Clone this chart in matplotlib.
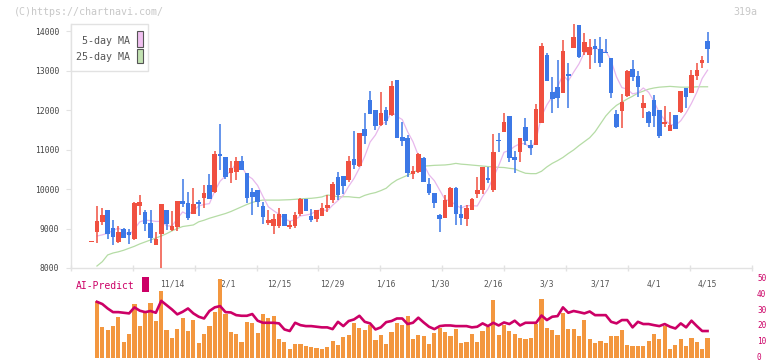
import numpy as np
import matplotlib
matplotlib.use("Agg")
import matplotlib.pyplot as plt
from matplotlib.patches import Rectangle

W, H = 772, 361
MONO = "DejaVu Sans Mono"

# daily candles (open, high, low, close), oldest first
opens = [8660, 8919, 9172, 9468, 9003, 8666, 8978, 8902, 8733, 9577,
         9417, 9139, 8590, 8851, 9468, 8961, 9046, 9696, 9645, 9366,
         9662, 9780, 10101, 9915, 10877, 10801, 10413, 10421, 10708, 10396,
         9932, 9974, 9569, 9147, 9071, 9071, 9366, 9046, 9071, 9366,
         9746, 9324, 9240, 9324, 9527, 9721, 10303, 10328, 10227, 10759,
         10590, 11519, 12253, 11999, 11620, 11999, 11873, 12759, 11324, 11282,
         10371, 10438, 10776, 10126, 9890, 9341, 9274, 9552, 10033, 9366,
         9240, 9468, 9873, 9974, 10269, 9974, 11240, 11434, 11848, 10818,
         10945, 11577, 11113, 11113, 11662, 13392, 12447, 12590, 12439, 12911,
         13578, 14152, 13476, 13392, 13620, 13536, 13476, 13308, 11898, 11983,
         12363, 13038, 12861, 12059, 11940, 12253, 12000, 11645, 11476, 11873,
         11957, 12565, 12439, 12869, 13181, 13755]
highs = [8660, 9577, 9518, 9468, 9214, 9063, 9020, 8987, 9662, 9847,
         9468, 9468, 8919, 9620, 9468, 9434, 9696, 10253, 9932, 10033,
         9721, 10101, 10379, 10962, 11645, 10801, 10717, 10818, 10835, 10396,
         10016, 9974, 9679, 9468, 9358, 9510, 9366, 9189, 9425, 9763,
         9746, 9493, 9468, 9653, 9847, 10185, 10438, 10328, 10835, 11468,
         11409, 11915, 12481, 11999, 12464, 12084, 12734, 12759, 11704, 11367,
         10582, 10902, 10818, 10286, 9890, 9366, 9847, 10041, 10058, 9594,
         9594, 9763, 10295, 10565, 10565, 11392, 11409, 11915, 11848, 10962,
         11282, 11788, 11240, 12152, 13688, 13451, 12844, 13265, 13772, 13181,
         14177, 14152, 13941, 13797, 13797, 13839, 13789, 13308, 11999, 12405,
         13012, 13265, 12987, 12380, 11983, 12380, 12000, 12101, 11957, 11873,
         12481, 12565, 13012, 13198, 13367, 13983]
lows = [8660, 8641, 9088, 8733, 8590, 8641, 8750, 8607, 8708, 9341,
        8945, 8641, 8590, 7980, 8961, 8945, 8945, 9535, 9214, 9366,
        9324, 9527, 9746, 9900, 10480, 10244, 10143, 10227, 10480, 9653,
        9341, 9552, 9113, 9088, 8851, 9004, 9071, 8987, 9020, 9324,
        9451, 9172, 9172, 9324, 9426, 9653, 9721, 9873, 10185, 10506,
        10565, 11139, 11898, 11493, 11603, 11620, 11856, 11299, 11096, 10295,
        10244, 10413, 10185, 9847, 9510, 8919, 9274, 9552, 9088, 9088,
        9071, 9468, 9763, 9873, 10143, 9932, 10928, 11434, 10692, 10413,
        10692, 11113, 10860, 11113, 11662, 12742, 11932, 12042, 12422, 12042,
        13578, 13325, 13392, 13029, 13181, 13097, 13451, 12312, 11535, 11552,
        12337, 12742, 12337, 11805, 11578, 11578, 11282, 11578, 11476, 11510,
        11915, 12059, 12439, 12759, 13054, 13198]
closes = [8660, 9189, 9341, 8851, 8792, 8919, 8767, 8843, 9636, 9662,
          9122, 8750, 8733, 9620, 9122, 9063, 9696, 9611, 9274, 9620,
          9628, 9898, 9746, 10877, 10843, 10295, 10522, 10708, 10480, 9763,
          9805, 9679, 9299, 9215, 9232, 9366, 9071, 9088, 9341, 9746,
          9451, 9223, 9468, 9527, 9594, 10126, 9847, 10084, 10708, 10607,
          11409, 11350, 11898, 11603, 11932, 11729, 12616, 11299, 11223, 10396,
          10455, 10886, 10185, 9890, 9636, 9231, 9721, 10016, 9366, 9274,
          9510, 9746, 9974, 10565, 10227, 10945, 11215, 11704, 10793, 10734,
          11282, 11215, 11046, 12025, 13620, 12742, 12278, 12295, 13502, 12869,
          13839, 13350, 13713, 13603, 13536, 13198, 13451, 12439, 11578, 12194,
          12995, 12844, 12590, 12168, 11662, 11856, 11350, 11687, 11620, 11510,
          12481, 12337, 12886, 13012, 13265, 13535]

# moving averages as drawn (start on the 2nd candle)
ma5 = [8810, 8840, 8880, 8950, 9010, 8930, 8830, 8990, 9170, 9210,
       9200, 9180, 9180, 9070, 9060, 9250, 9420, 9350, 9450, 9570,
       9610, 9630, 9950, 10200, 10330, 10460, 10650, 10570, 10350, 10260,
       10090, 9810, 9550, 9450, 9360, 9240, 9190, 9220, 9320, 9340,
       9370, 9450, 9480, 9450, 9590, 9710, 9840, 10070, 10270, 10530,
       10830, 11190, 11370, 11640, 11700, 11960, 11840, 11760, 11450, 11200,
       10850, 10630, 10360, 10210, 9970, 9730, 9700, 9590, 9520, 9580,
       9580, 9570, 9810, 10000, 10290, 10590, 10930, 10980, 11080, 11150,
       11150, 11010, 11260, 11840, 12130, 12340, 12590, 12890, 12740, 12960,
       13170, 13460, 13480, 13610, 13480, 13500, 13250, 12840, 12570, 12530,
       12410, 12440, 12560, 12450, 12220, 11930, 11750, 11640, 11610, 11730,
       11930, 12170, 12450, 12800, 13010]
ma25 = [8050, 8160, 8330, 8380, 8410, 8450, 8500, 8550, 8610, 8660,
        8710, 8760, 8810, 8870, 8940, 9000, 9050, 9070, 9090, 9170,
        9210, 9260, 9300, 9340, 9380, 9430, 9490, 9550, 9610, 9660,
        9700, 9720, 9720, 9720, 9720, 9725, 9730, 9740, 9750, 9760,
        9765, 9780, 9800, 9850, 9830, 9805, 9805, 9805, 9790, 9780,
        9840, 9880, 9910, 9960, 10020, 10140, 10230, 10290, 10350, 10420,
        10480, 10580, 10590, 10600, 10605, 10610, 10625, 10650, 10630, 10620,
        10607, 10595, 10582, 10570, 10560, 10550, 10545, 10525, 10510, 10450,
        10400, 10390, 10390, 10450, 10560, 10650, 10720, 10800, 10900, 10990,
        11100, 11200, 11300, 11450, 11650, 11850, 12000, 12120, 12200, 12280,
        12350, 12430, 12480, 12530, 12560, 12580, 12590, 12600, 12590, 12580,
        12580, 12580, 12590, 12590, 12590]

# lower panel (also from the 2nd candle)
volume = [35.6, 19.5, 17.4, 19.9, 25.8, 10.1, 15.1, 34.0, 19.9, 28.9,
          34.6, 23.1, 41.9, 17.4, 12.4, 18.0, 24.9, 16.8, 23.7, 9.4,
          14.9, 19.9, 28.9, 49.5, 27.7, 16.4, 14.9, 10.1, 22.6, 22.0,
          15.7, 27.7, 25.2, 26.4, 11.5, 10.1, 5.7, 8.6, 8.4, 7.5,
          6.9, 5.9, 5.2, 6.9, 10.7, 8.0, 13.0, 14.3, 22.0, 18.9,
          17.4, 20.5, 11.1, 14.3, 8.6, 16.4, 22.0, 20.5, 26.2, 11.5,
          14.3, 13.6, 8.6, 15.7, 18.4, 16.4, 13.6, 18.0, 9.4, 10.1,
          14.9, 10.1, 17.0, 19.1, 36.3, 14.3, 20.5, 16.8, 14.9, 12.6,
          11.7, 12.6, 21.2, 36.9, 18.4, 17.4, 14.3, 28.3, 18.0, 18.0,
          13.6, 23.7, 11.7, 9.4, 10.7, 9.4, 13.6, 13.6, 17.4, 8.0,
          7.3, 7.3, 7.3, 10.7, 14.9, 11.7, 19.9, 5.5, 8.0, 11.7,
          7.3, 12.6, 10.1, 5.5, 12.6]
ai_predict = [35.2, 33.8, 31.0, 28.7, 28.7, 28.3, 27.9, 31.7, 29.6, 28.7,
              29.4, 28.3, 35.8, 33.1, 30.4, 27.3, 28.9, 31.0, 27.9, 25.8,
              24.7, 29.4, 31.7, 32.5, 28.7, 28.5, 26.8, 26.4, 26.4, 27.5,
              23.3, 22.0, 22.0, 22.0, 21.6, 17.8, 16.8, 22.0, 20.5, 19.9,
              19.9, 19.5, 19.1, 19.1, 18.0, 22.6, 19.9, 23.1, 24.1, 26.4,
              22.6, 21.6, 17.8, 19.1, 22.4, 23.1, 24.7, 24.7, 21.2, 22.0,
              25.2, 22.2, 19.5, 18.0, 19.9, 20.3, 20.3, 19.9, 19.9, 19.9,
              19.1, 19.5, 21.6, 19.9, 22.0, 20.3, 22.2, 21.2, 23.3, 20.3,
              22.0, 22.0, 22.0, 26.6, 23.7, 25.8, 26.2, 31.7, 28.3, 29.4,
              28.7, 27.9, 29.1, 26.8, 26.8, 26.8, 22.6, 21.6, 23.7, 23.7,
              19.1, 22.6, 21.2, 21.2, 20.5, 19.9, 21.2, 19.5, 18.4, 21.6,
              19.1, 23.3, 19.9, 16.8, 16.8]

date_labels = ["11/14", "12/1", "12/15", "12/29", "1/16", "1/30",
               "2/16", "3/3", "3/17", "4/1", "4/15"]
date_idx = [15, 25, 35, 45, 55, 65, 75, 85, 95, 105, 115]
price_ticks = [8000, 9000, 10000, 11000, 12000, 13000, 14000]
sub_ticks = [0, 10, 20, 30, 40, 50]

RED = "#f05040"
BLUE = "#3c78e6"
ORANGE = "#f3973f"
MAGENTA = "#cc0066"
AXIS = "#e2e2e2"

o = np.array(opens, float)
hi = np.array(highs, float)
lo = np.array(lows, float)
c = np.array(closes, float)
x = np.arange(len(c))
xs = x[1:]

fig = plt.figure(figsize=(W / 100, H / 100), dpi=100)
fig.patch.set_facecolor("white")

def box(l, t, r, b):
    return [l / W, 1 - b / H, (r - l) / W, (b - t) / H]

ax = fig.add_axes(box(70.7, 24, 752, 268))
x0, x1 = -3.9, 123.3
ax.set_xlim(x0, x1)
ax.set_ylim(8000, 14180)

ax.plot(xs, ma25, color="#b5dca5", lw=0.9, zorder=2)
ax.plot(xs, ma5, color="#e8b8ec", lw=0.9, zorder=2)

up = c >= o
cols = np.where(up, RED, BLUE)
ax.vlines(x, lo, hi, colors=cols, lw=1.1, zorder=3)
bottom = np.minimum(o, c)
height = np.maximum(np.abs(c - o), 28)
ax.bar(x, height, bottom=bottom, width=0.86, color=cols, zorder=4)

for s in ["top", "right"]:
    ax.spines[s].set_visible(False)
for s in ["left", "bottom"]:
    ax.spines[s].set_color(AXIS)
    ax.spines[s].set_linewidth(1.0)

ax.set_yticks(price_ticks)
ax.set_yticklabels([str(t) for t in price_ticks], family=MONO, fontsize=5.8, color="#444444")
ax.tick_params(axis="y", length=3.6, width=0.8, color=AXIS, pad=4.6)

ax.set_xticks(np.linspace(x0, x1, 12))
ax.set_xticklabels([])
ax.tick_params(axis="x", which="major", direction="inout", length=4, width=1.0, color=AXIS)
ax.set_xticks(date_idx, minor=True)
ax.set_xticklabels(date_labels, minor=True, family=MONO, fontsize=5.8, color="#555555")
ax.tick_params(axis="x", which="minor", length=0, pad=8)

# legend box
fig.patches.append(Rectangle((70.7 / W, 1 - 71 / H), (148 - 70.7) / W, 47 / H,
                             transform=fig.transFigure, facecolor="white",
                             edgecolor=AXIS, lw=1.0, zorder=5))
fig.text(129.5 / W, 1 - 41 / H, "5-day MA", ha="right", va="center",
         family=MONO, fontsize=7.2, color="#555555", zorder=6)
fig.text(129.5 / W, 1 - 57 / H, "25-day MA", ha="right", va="center",
         family=MONO, fontsize=7.2, color="#555555", zorder=6)
fig.patches.append(Rectangle((136.7 / W, 1 - 46.7 / H), 6 / W, 15.4 / H,
                             transform=fig.transFigure, facecolor="#f0c0f0",
                             edgecolor="#555555", lw=0.8, zorder=6))
fig.patches.append(Rectangle((136.7 / W, 1 - 63.3 / H), 6 / W, 14.6 / H,
                             transform=fig.transFigure, facecolor="#c2e2b2",
                             edgecolor="#555555", lw=0.8, zorder=6))

# lower panel
ax2 = fig.add_axes(box(70.7, 278.3, 752, 357.7))
ax2.patch.set_alpha(0)
ax2.set_xlim(x0, x1)
ax2.set_ylim(0, 50)
ax2.bar(xs, volume, width=0.78, color=ORANGE, clip_on=False, zorder=2)
ax2.plot(xs, ai_predict, color=MAGENTA, lw=1.9, zorder=3, clip_on=False)
for s in ax2.spines.values():
    s.set_visible(False)
ax2.set_xticks([])
ax2.yaxis.tick_right()
ax2.set_yticks(sub_ticks)
ax2.set_yticklabels([str(t) for t in sub_ticks], family=MONO, fontsize=5.6, color=MAGENTA)
for lab in ax2.get_yticklabels():
    lab.set_va("center")
ax2.tick_params(axis="y", length=0, pad=3.6)

fig.text(76 / W, 1 - 286 / H, "AI-Predict", ha="left", va="center",
         family=MONO, fontsize=7, color=MAGENTA)
fig.patches.append(Rectangle((142.3 / W, 1 - 292.3 / H), 6.4 / W, 15.6 / H,
                             transform=fig.transFigure, facecolor=MAGENTA,
                             edgecolor="none", zorder=6))

fig.text(14 / W, 1 - 12 / H, "(C)https://chartnavi.com/", ha="left", va="center",
         family=MONO, fontsize=7.2, color="#c8c8c8")
fig.text(757 / W, 1 - 12 / H, "319a", ha="right", va="center",
         family=MONO, fontsize=7.2, color="#c8c8c8")

fig.savefig("out.png", dpi=100, facecolor="white")
